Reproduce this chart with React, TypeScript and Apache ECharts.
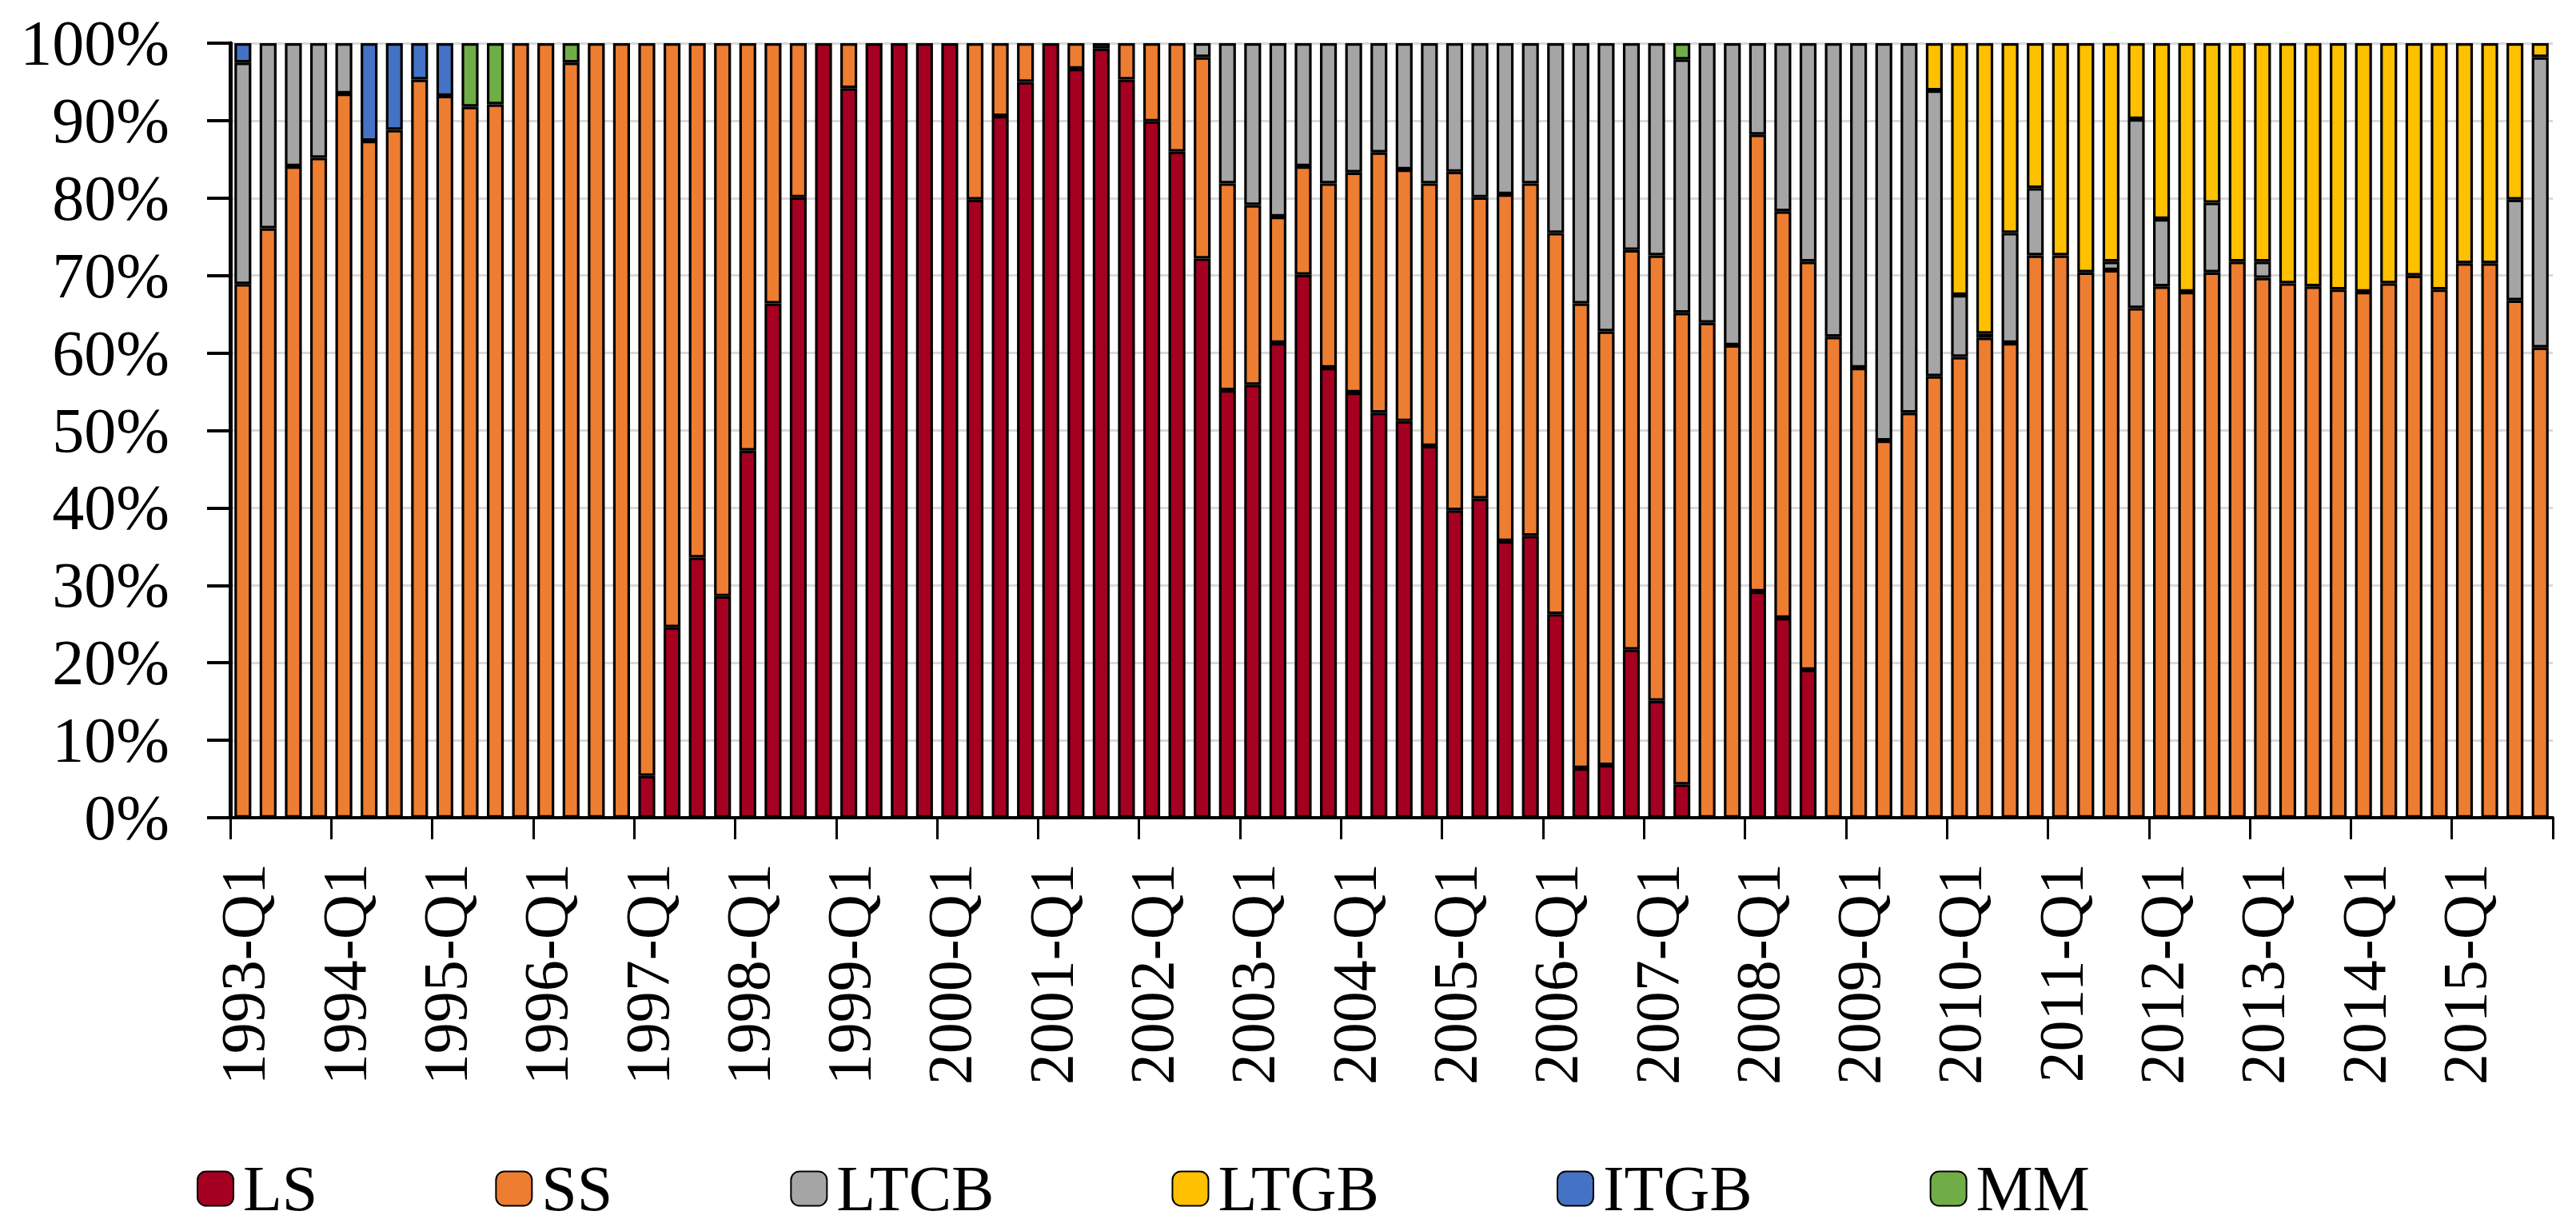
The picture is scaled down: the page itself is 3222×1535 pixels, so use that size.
import React, { useEffect, useRef } from "react";
import * as echarts from "echarts";

const years = [1993, 1994, 1995, 1996, 1997, 1998, 1999, 2000, 2001, 2002, 2003, 2004, 2005, 2006, 2007, 2008, 2009, 2010, 2011, 2012, 2013, 2014, 2015];
const quarters = ["Q1", "Q2", "Q3", "Q4"];
const categories: string[] = [];
years.forEach((y) => quarters.forEach((q) => categories.push(`${y}-${q}`)));

const seriesNames = ["LS", "SS", "LTCB", "LTGB", "ITGB", "MM"];
const seriesColors = ["#A50021", "#ED7D31", "#A5A5A5", "#FFC000", "#4472C4", "#70AD47"];

const LS = [
  0, 0, 0, 0, 0, 0, 0, 0, 0, 0, 0, 0, 0, 0, 0, 0,
  5.4, 24.6, 33.6, 28.6, 47.4, 66.4, 80.1, 100,
  94.2, 100, 100, 100, 100, 79.8, 90.6, 95.0,
  100, 96.7, 99.3, 95.3, 89.9, 86.0, 72.2, 55.2,
  55.9, 61.3, 70.1, 58.1, 54.9, 52.3, 51.2, 48.0,
  39.7, 41.2, 35.7, 36.4, 26.3, 6.4, 6.8, 21.7,
  15.1, 4.3, 0, 0, 29.2, 25.8, 19.1, 0,
  0, 0, 0, 0, 0, 0, 0, 0,
  0, 0, 0, 0, 0, 0, 0, 0,
  0, 0, 0, 0, 0, 0, 0, 0,
  0, 0, 0, 0,
];
const SS = [
  68.9, 76.1, 84.1, 85.2, 93.5, 87.4, 88.8, 95.3,
  93.2, 91.8, 92.1, 100, 100, 97.5, 100, 100,
  94.6, 75.4, 66.4, 71.4, 52.6, 33.6, 19.9, 0,
  5.8, 0, 0, 0, 0, 20.2, 9.4, 5.0,
  0, 3.3, 0.7, 4.7, 10.1, 14.0, 26.0, 26.7,
  23.2, 16.3, 14.0, 23.8, 28.4, 33.6, 32.5, 33.9,
  43.7, 38.9, 44.8, 45.5, 49.2, 60.0, 56.0, 51.6,
  57.5, 60.9, 63.9, 61.0, 59.0, 52.5, 52.7, 62.1,
  58.1, 48.7, 52.3, 57.0, 59.5, 62.0, 61.3, 72.6,
  72.6, 70.4, 70.7, 65.8, 68.6, 67.9, 70.4, 71.8,
  69.7, 69.0, 68.6, 68.2, 67.9, 69.0, 70.0, 68.2,
  71.6, 71.6, 66.8, 60.7,
];
const LTCB = [
  28.6, 23.9, 15.9, 14.8, 6.5, 0, 0, 0,
  0, 0, 0, 0, 0, 0, 0, 0,
  0, 0, 0, 0, 0, 0, 0, 0,
  0, 0, 0, 0, 0, 0, 0, 0,
  0, 0, 0, 0, 0, 0, 1.8, 18.1,
  20.9, 22.4, 15.9, 18.1, 16.7, 14.1, 16.3, 18.1,
  16.6, 19.9, 19.5, 18.1, 24.5, 33.6, 37.2, 26.7,
  27.4, 32.7, 36.1, 39.0, 11.8, 21.7, 28.2, 37.9,
  41.9, 51.3, 47.7, 36.9, 8.0, 0.5, 14.2, 8.7,
  0, 0, 1.1, 24.4, 8.7, 0, 9.0, 0,
  2.1, 0, 0, 0, 0, 0, 0, 0,
  0, 0, 13.0, 37.5,
];
const LTGB = [
  0, 0, 0, 0, 0, 0, 0, 0, 0, 0, 0, 0, 0, 0, 0, 0,
  0, 0, 0, 0, 0, 0, 0, 0, 0, 0, 0, 0, 0, 0, 0, 0,
  0, 0, 0, 0, 0, 0, 0, 0, 0, 0, 0, 0, 0, 0, 0, 0,
  0, 0, 0, 0, 0, 0, 0, 0, 0, 0, 0, 0, 0, 0, 0, 0,
  0, 0, 0, 6.1, 32.5, 37.5, 24.5, 18.7,
  27.4, 29.6, 28.2, 9.8, 22.7, 32.1, 20.6, 28.2,
  28.2, 31.0, 31.4, 31.8, 32.1, 31.0, 30.0, 31.8,
  28.4, 28.4, 20.2, 1.8,
];
const ITGB = [
  2.5, 0, 0, 0, 0, 12.6, 11.2, 4.7,
  6.8, 0, 0, 0, 0, 0, 0, 0,
  0, 0, 0, 0, 0, 0, 0, 0, 0, 0, 0, 0, 0, 0, 0, 0,
  0, 0, 0, 0, 0, 0, 0, 0, 0, 0, 0, 0, 0, 0, 0, 0,
  0, 0, 0, 0, 0, 0, 0, 0, 0, 0, 0, 0, 0, 0, 0, 0,
  0, 0, 0, 0, 0, 0, 0, 0, 0, 0, 0, 0, 0, 0, 0, 0,
  0, 0, 0, 0, 0, 0, 0, 0, 0, 0, 0, 0,
];
const MM = [
  0, 0, 0, 0, 0, 0, 0, 0,
  0, 8.2, 7.9, 0, 0, 2.5, 0, 0,
  0, 0, 0, 0, 0, 0, 0, 0, 0, 0, 0, 0, 0, 0, 0, 0,
  0, 0, 0, 0, 0, 0, 0, 0, 0, 0, 0, 0, 0, 0, 0, 0,
  0, 0, 0, 0, 0, 0, 0, 0,
  0, 2.1, 0, 0, 0, 0, 0, 0,
  0, 0, 0, 0, 0, 0, 0, 0, 0, 0, 0, 0, 0, 0, 0, 0,
  0, 0, 0, 0, 0, 0, 0, 0, 0, 0, 0, 0,
];
const seriesValues = [LS, SS, LTCB, LTGB, ITGB, MM];

const FONT = "'Liberation Serif', 'Times New Roman', serif";

export default function App() {
  const ref = useRef<HTMLDivElement>(null);
  useEffect(() => {
    if (!ref.current) return;
    const chart = echarts.init(ref.current, undefined, { renderer: "svg" });
    chart.setOption({
      animation: false,
      backgroundColor: "#ffffff",
      grid: { left: 288, right: 29, top: 54, bottom: 512, containLabel: false },
      legend: {
        left: 246,
        top: 1447,
        padding: 0,
        itemGap: 222,
        itemWidth: 45,
        itemHeight: 43,
        data: seriesNames,
        textStyle: {
          fontFamily: FONT,
          fontSize: 80,
          color: "#000",
          lineHeight: 80,
          padding: [0, 0, 0, 7],
        },
      },
      xAxis: {
        type: "category",
        data: categories,
        boundaryGap: true,
        axisLine: { lineStyle: { color: "#000", width: 4 } },
        axisTick: { show: true, interval: 3, length: 27, lineStyle: { color: "#000", width: 3 } },
        axisLabel: {
          interval: 3,
          rotate: 90,
          margin: 57,
          fontFamily: FONT,
          fontSize: 78,
          color: "#000",
        },
        splitLine: { show: false },
      },
      yAxis: {
        type: "value",
        min: 0,
        max: 100,
        interval: 10,
        axisLine: { show: true, lineStyle: { color: "#000", width: 5 } },
        axisTick: { show: true, length: 29, lineStyle: { color: "#000", width: 4 } },
        axisLabel: {
          formatter: "{value}%",
          margin: 76,
          fontFamily: FONT,
          fontSize: 80,
          color: "#000",
        },
        splitLine: { show: true, lineStyle: { color: "#d9d9d9", width: 3 } },
      },
      series: seriesNames.map((name, i) => ({
        name,
        type: "bar",
        stack: "total",
        barWidth: "67%",
        data: seriesValues[i].map((v) => (v === 0 ? null : v)),
        itemStyle: { color: seriesColors[i], borderColor: "#000", borderWidth: 3.2 },
        emphasis: { disabled: true },
      })),
    });
    return () => chart.dispose();
  }, []);
  return (
    <div
      ref={ref}
      style={{ position: "fixed", left: 0, top: 0, width: 3222, height: 1535, background: "#fff" }}
    />
  );
}
